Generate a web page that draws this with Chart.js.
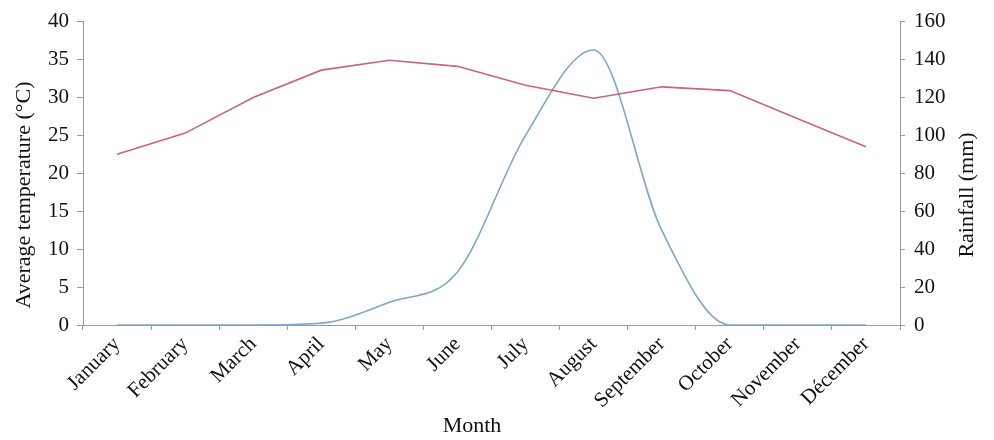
<!DOCTYPE html>
<html>
<head>
<meta charset="utf-8">
<script src="https://cdn.jsdelivr.net/npm/chart.js"></script>
<style>
  body { margin: 0; background: #fff; }
  #wrap { width: 994px; height: 440px; }
</style>
</head>
<body>
<div id="wrap"><canvas id="chart" width="994" height="440"></canvas></div>
<script>
const months = ['January', 'February', 'March', 'April', 'May', 'June', 'July', 'August', 'September', 'October', 'November', 'Décember'];
const temperature = [22.5, 25.3, 30, 33.6, 34.9, 34.1, 31.6, 29.9, 31.4, 30.9, 27.2, 23.5];
const rainfall = [0, 0, 0, 1, 12, 28, 100, 145, 50, 0, 0, 0];
const tempTicks = [0, 5, 10, 15, 20, 25, 30, 35, 40];
const rainTicks = [0, 20, 40, 60, 80, 100, 120, 140, 160];

const tickFont = { family: '"Liberation Serif", "Times New Roman", serif', size: 21 };
const titleFont = '22px "Liberation Serif", "Times New Roman", serif';
const axisColor = '#9a9a9a';

// axis titles drawn by hand: the right one reads bottom-to-top like the original
const axisTitles = {
  id: 'axisTitles',
  afterDraw(chart) {
    const ctx = chart.ctx;
    ctx.save();
    ctx.font = titleFont;
    ctx.fillStyle = '#111';
    ctx.textAlign = 'center';
    ctx.textBaseline = 'middle';

    ctx.save();
    ctx.translate(24, 195);
    ctx.rotate(-Math.PI / 2);
    ctx.fillText('Average temperature (°C)', 0, 0);
    ctx.restore();

    ctx.save();
    ctx.translate(967, 195);
    ctx.rotate(-Math.PI / 2);
    ctx.fillText('Rainfall (mm)', 0, 0);
    ctx.restore();

    ctx.fillText('Month', 472, 426);
    ctx.restore();
  }
};

new Chart(document.getElementById('chart'), {
  type: 'line',
  data: {
    labels: months,
    datasets: [
      {
        label: 'Average temperature',
        data: temperature,
        yAxisID: 'y',
        borderColor: '#c8647c',
        borderWidth: 1.6,
        pointRadius: 0,
        tension: 0,
      },
      {
        label: 'Rainfall',
        data: rainfall,
        yAxisID: 'y1',
        borderColor: '#80a8c2',
        borderWidth: 1.6,
        pointRadius: 0,
        cubicInterpolationMode: 'monotone',
      },
    ],
  },
  options: {
    responsive: false,
    animation: false,
    layout: { padding: { top: 20, left: 0, right: 0, bottom: 0 } },
    plugins: {
      legend: { display: false },
      tooltip: { enabled: false },
    },
    scales: {
      x: {
        offset: true,
        grid: { offset: true, drawOnChartArea: false, tickLength: 5, color: axisColor },
        border: { color: axisColor },
        ticks: { font: tickFont, color: '#111', minRotation: 45, maxRotation: 45, padding: 2 },
        afterFit: (scale) => { scale.height = 115; },
      },
      y: {
        position: 'left',
        min: 0,
        max: 40,
        afterBuildTicks: (scale) => { scale.ticks = tempTicks.map(v => ({ value: v })); },
        grid: { drawOnChartArea: false, tickLength: 6, color: axisColor },
        border: { color: axisColor },
        ticks: { font: tickFont, color: '#111', padding: 8 },
        afterFit: (scale) => { scale.width = 83; },
      },
      y1: {
        position: 'right',
        min: 0,
        max: 160,
        afterBuildTicks: (scale) => { scale.ticks = rainTicks.map(v => ({ value: v })); },
        grid: { drawOnChartArea: false, tickLength: 5, color: axisColor },
        border: { color: axisColor },
        ticks: { font: tickFont, color: '#111', padding: 9 },
        afterFit: (scale) => { scale.width = 94; },
      },
    },
  },
  plugins: [axisTitles],
});
</script>
</body>
</html>
